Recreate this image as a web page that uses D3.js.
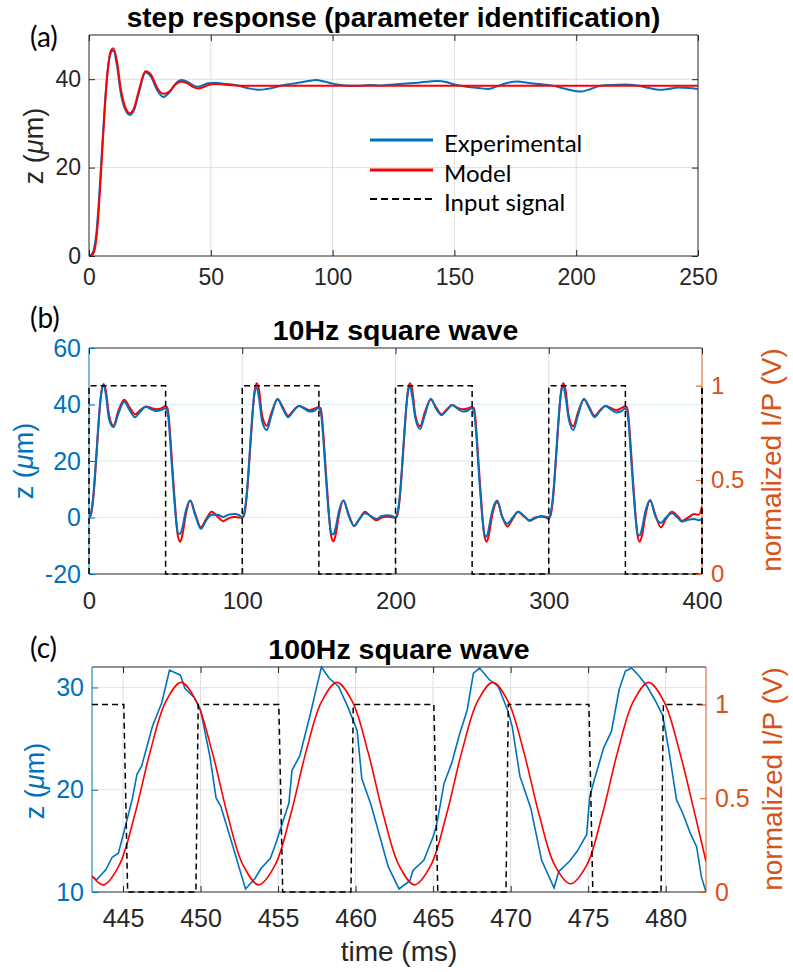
<!DOCTYPE html>
<html><head><meta charset="utf-8">
<script src="https://cdn.jsdelivr.net/npm/d3@7"></script>
<style>body{margin:0;background:#fff}svg{display:block}</style>
</head><body>
<svg id="fig" width="793" height="972"></svg>
<script>
// ---------------- DATA ----------------
// (a) step response
const aTime = [0,1,2,3,4,5,6,7,8,9,
  10,11.5,13,15,16.8,18.5,20.5,23.2,25.5,28,
  30.5,33,35.5,38,40.5,42.8,44.8,47,49,52,
  55,60,65,70,75,80,85,90,93,97,
  100,105,110,115,120,125,130,135,140,143,
  147,150,155,160,164,168,172,176,180,185,
  190,195,200,202,206,210,215,220,225,230,
  234,238,242,246,250];
const aExp = [0,0.3,1.5,5,12,21,30,38,43.5,46,
  46.5,43,37,33,31.9,33,37,41.5,40.5,37.5,
  36,37,39,39.8,39.4,38.6,38.3,38.7,39.1,39.2,
  39.0,38.7,38.0,37.6,38.0,38.7,39.1,39.6,39.8,39.4,
  39.0,38.6,38.5,38.7,38.6,38.8,39.0,39.2,39.5,39.6,
  39.3,38.8,38.3,38.0,37.8,38.5,39.2,39.5,39.2,38.9,
  38.6,37.9,37.3,37.2,37.8,38.5,38.7,38.8,38.6,38.0,
  37.6,37.8,38.1,38.0,37.8];
const aModel = [0,0.1,0.8,3.8,10.5,19.5,29,37.5,43.5,46.5,
  47,44,38,33.5,32.3,33.5,37.5,41.8,41,38,
  36.7,37.2,38.8,39.5,39.0,38.2,37.9,38.2,38.7,38.9,
  38.8,38.6,38.5,38.5,38.5,38.5,38.5,38.5,38.5,38.5,
  38.5,38.5,38.5,38.5,38.5,38.5,38.5,38.5,38.5,38.5,
  38.5,38.5,38.5,38.5,38.5,38.5,38.5,38.5,38.5,38.5,
  38.5,38.5,38.5,38.5,38.5,38.5,38.5,38.5,38.5,38.5,
  38.5,38.5,38.5,38.5,38.5];
const aTicksX = [0,50,100,150,200,250];
const aTicksY = [0,20,40];
const legendLabels = ["Experimental","Model","Input signal"];

// (b) 10 Hz square wave: [time ms, experimental z, model z]
const bCycle1 = [[0,0,0],[1,1,0.5],[2,4,3],[3,9,8],[4,16,15],[5,24,23],[6,32,31],[7,39,38.5],[8,44,44],[9.5,47,47.3],
  [11,43.5,45],[13,35,36.5],[16,32,32.5],[19,36.5,37.5],[23,41,41.7],[26.5,38,39],[30,35.5,36.5],[33.5,37.5,38],[37,39.2,39.3],[40.5,38.3,38.8],
  [44,37.7,38.3],[47,38,38.6],[49.5,38.6,39.3],[51,38,39],[52,34,36],[53,27,29],[54,19,21],[55,11,13],[56,4,5.5],[57,-2,-1.5],
  [58,-5.5,-6.5],[59.5,-5.8,-8.6],[61,-3.5,-6],[63,2,0.5],[66,6,6],[69.5,0.5,1],[73,-4,-3.5],[76.5,-1,-0.5],[80,1,2],[84,1,0.3],
  [87.5,0.2,-1.3],[91,1,-0.3],[95,1.2,0.2],[98,0.8,0]];
const bCycle2 = [[100,0,0],[101,1,0.5],[102,4,3],[103,9,8],[104,16,15],[105,24,23],[106,32,31],[107,39,38.5],[108,44,44.5],[109.5,46,47.5],
  [111,42,45],[113,34,36],[116,31,32.5],[119,36,37],[123,42,41.8],[126.5,38.5,39],[130,35.5,36],[133.5,37.8,38],[137,39.5,39.5],[140.5,38.5,38.8],
  [144,37.5,38],[147,37.8,38.5],[149.5,38.7,39],[151,38,38.8],[152,34,36],[153,27,29],[154,19,21],[155,11,13],[156,4,5.5],[157,-2,-1.5],
  [158,-5.5,-6.5],[159.5,-6,-8.5],[161,-3.5,-6],[163,2,0.5],[166,6,6],[169.5,0.5,1],[173,-3,-3],[176.5,-0.5,-0.5],[180,1.5,2],[184,0.5,0.3],
  [187.5,-0.5,-1],[191,0.5,0],[195,0.8,0.3],[198,0.5,0]];
const bCycle3 = [[200,0,0],[201,1,0.5],[202,4,3],[203,9,8],[204,16,15],[205,24,23],[206,32,31],[207,39,38.5],[208,44,44.5],[209.5,46.5,47.5],
  [211,42.5,45],[213,35,36],[216,31.3,32.3],[219,36,37],[223,42,41.8],[226.5,38.5,39],[230,36.2,36.5],[233.5,38,38.3],[237,39.8,39.8],[240.5,38.5,38.8],
  [244,37.5,38.3],[247,37.8,38.6],[249.5,38.6,39.1],[251,38,38.8],[252,34,36],[253,27,29],[254,19,21],[255,11,13],[256,4,5.5],[257,-2,-1.5],
  [258,-6,-6.5],[259.5,-6.8,-8.6],[261,-3.5,-6],[263,2,0.5],[266.4,6,5.5],[269.5,0.5,0.5],[273,-2.2,-3.2],[276.5,0,-0.5],[280,2,2],[284,0.5,0.3],
  [287.5,-1,-1.2],[291,0,-0.3],[295,0.3,0.5],[298,0,0.3]];
const bCycle4 = [[300,-0.5,0],[301,1,0.5],[302,4,3],[303,9,8],[304,16,15],[305,24,23],[306,32,31],[307,39,38.5],[308,44,44.5],[309.5,46.5,47.5],
  [311,42.5,45],[313,35,36],[316,31,32.3],[319,36,37],[323,42,41.8],[326.5,38.5,39],[330,35.5,36],[333.5,37.8,38],[337,39.5,39.5],[340.5,38.3,38.8],
  [344,37.2,38],[347,37.5,38.6],[349.5,38.5,39.3],[351,38,39],[352,34,36],[353,27,29],[354,19,21],[355,11,13],[356,4,5.5],[357,-2,-1.5],
  [358,-6,-6.5],[359.3,-6.4,-8.6],[361,-3.5,-6],[363,2,0.5],[366.2,6.2,6],[369.5,0.5,1],[373.2,-1.9,-3.5],[376.5,0,-0.5],[380.4,1.5,2],[384,0,0.5],
  [387,-1.5,-1.2],[391,-0.8,0],[395,-0.5,1.2],[398,-1,1],[400,-0.5,4]];
const bInput = [[0,0],[0,1],[50,1],[50,0],[100,0],[100,1],[150,1],[150,0],[200,0],[200,1],[250,1],[250,0],[300,0],[300,1],[350,1],[350,0],[400,0],[400,1]];
const bTicksX = [0,100,200,300,400];
const bTicksYL = [-20,0,20,40,60];
const bTicksYR = [0,0.5,1];

// (c) 100 Hz square wave
const cExp = [[443.0,11.5],[443.3,11.2],[443.9,12.2],[444.3,13.4],[444.7,13.8],[445.1,16.1],[445.6,19.1],[445.9,21.5],[446.2,22.3],[446.9,26.2],
  [447.5,28.5],[448.0,31.7],[448.7,31.2],[449.0,29.9],[449.6,29.0],[450.0,27.8],[450.6,23.3],[451.0,19.2],[451.3,18.4],[451.9,15.4],
  [452.9,10.3],[453.5,11.3],[453.9,12.3],[454.5,13.3],[454.8,14.5],[455.1,15.9],[455.7,18.7],[455.9,21.9],[456.4,23.3],[457.1,27.5],
  [457.5,30.1],[457.8,32.0],[458.3,30.9],[458.9,30.1],[459.5,28.1],[460.1,25.8],[460.4,21.1],[461.0,18.5],[462.1,12.5],[462.8,10.3],
  [463.5,11.1],[463.7,12.1],[464.4,13.1],[465.0,15.4],[465.2,16.4],[465.4,18.0],[465.7,20.6],[466.2,22.6],[466.7,25.4],[467.2,27.8],
  [467.6,31.4],[468.0,31.9],[468.6,30.8],[469.2,30.1],[469.8,27.8],[470.1,26.2],[470.6,21.3],[471.3,18.2],[471.6,16.0],[472.0,13.1],
  [472.8,10.4],[473.1,12.0],[473.8,13.0],[474.3,14.0],[474.9,15.6],[475.1,19.3],[475.4,21.0],[476.0,24.1],[476.5,25.7],[477.0,29.8],
  [477.4,31.6],[477.8,31.9],[478.3,31.1],[478.8,30.1],[479.3,28.8],[479.8,27.3],[480.2,23.9],[480.7,19.0],[481.1,17.7],[481.6,15.7],
  [482.0,14.4],[482.3,11.5],[482.6,10.0]];
const cModel = [[443.0,11.6],[443.75,10.7],[444.75,12.6],[445.75,17.5],[446.75,23.7],[447.75,28.6],[448.75,30.5],[449.75,28.6],[450.75,23.7],[451.75,17.5],
  [452.75,12.6],[453.75,10.7],[454.8,12.6],[455.8,17.5],[456.8,23.7],[457.8,28.6],[458.8,30.5],[459.8,28.6],[460.8,23.7],[461.8,17.5],
  [462.8,12.6],[463.8,10.7],[464.85,12.6],[465.85,17.5],[466.85,23.7],[467.85,28.6],[468.85,30.5],[469.85,28.6],[470.85,23.7],[471.85,17.5],
  [472.85,12.6],[473.85,10.8],[474.9,12.6],[475.9,17.5],[476.9,23.7],[477.9,28.6],[478.9,30.5],[479.9,28.6],[480.9,23.7],[481.9,17.5],
  [482.6,13.0]];
const cInput = [[443,1],[445.05,1],[445.3,0],[449.7,0],[449.85,1],[455.05,1],[455.3,0],[459.7,0],[459.85,1],[465.05,1],[465.3,0],
  [469.7,0],[469.85,1],[475.05,1],[475.3,0],[479.7,0],[479.85,1],[482.6,1]];
const cTicksX = [445,450,455,460,465,470,475,480];
const cTicksYL = [10,20,30];
const cTicksYR = [0,0.5,1];

// ---------------- DRAW ----------------
const FONT = '"Liberation Sans", Arial, Helvetica, sans-serif';
const LFONT = 'Lato, "Open Sans", sans-serif';
const BLUE = '#0072BD', RED = '#FF0000', ORANGE = '#D95319', DARK = '#262626';
const GRIDG = '#DEDEDE', GRIDB = '#D9EAF5';
const svg = d3.select('#fig');
const fmt = d => String(d);

function styleAxis(g, color, fs) {
  g.select('.domain').remove();
  g.attr('font-size', null).attr('font-family', null);
  g.selectAll('.tick line').attr('stroke', color).attr('stroke-width', 1);
  g.selectAll('.tick text').attr('fill', color).attr('font-size', fs).attr('font-family', FONT);
  return g;
}
function box(p, L, R, T, B, cl, cr, ct, cb) {
  p.append('line').attr('x1', L).attr('x2', R).attr('y1', T).attr('y2', T).attr('stroke', ct);
  p.append('line').attr('x1', L).attr('x2', R).attr('y1', B).attr('y2', B).attr('stroke', cb);
  p.append('line').attr('x1', L).attr('x2', L).attr('y1', T).attr('y2', B).attr('stroke', cl);
  p.append('line').attr('x1', R).attr('x2', R).attr('y1', T).attr('y2', B).attr('stroke', cr);
}
function clip(id, L, R, T, B) {
  svg.append('clipPath').attr('id', id).append('rect')
    .attr('x', L).attr('y', T - 2).attr('width', R - L).attr('height', B - T + 4);
}
function zLabel(x, y, color, fs) {
  const t = svg.append('text').attr('transform', `translate(${x},${y}) rotate(-90)`)
    .attr('text-anchor', 'middle').attr('font-family', FONT).attr('font-size', fs).attr('fill', color);
  t.append('tspan').text('z (');
  t.append('tspan').attr('font-style', 'italic').text('\u03BC');
  t.append('tspan').text('m)');
}
function title(x, y, s, fs) {
  svg.append('text').attr('x', x).attr('y', y).attr('text-anchor', 'middle')
    .attr('font-family', FONT).attr('font-weight', 'bold').attr('font-size', fs).attr('fill', '#000').text(s);
}
function panelLabel(x, y, s) {
  svg.append('text').attr('x', x).attr('y', y).attr('font-family', LFONT).attr('font-size', 28).attr('fill', '#000').text(s);
}

// ===== Panel (a) =====
{
  const L = 89, R = 698, T = 35, B = 256;
  const x = d3.scaleLinear().domain([0, 250]).range([L, R]);
  const y = d3.scaleLinear().domain([0, 50]).range([B, T]);
  const g = svg.append('g');
  g.selectAll('.gx').data(aTicksX.slice(1, -1)).join('line')
    .attr('x1', d => x(d)).attr('x2', d => x(d)).attr('y1', T).attr('y2', B).attr('stroke', GRIDG);
  g.selectAll('.gy').data(aTicksY.slice(1)).join('line')
    .attr('x1', L).attr('x2', R).attr('y1', d => y(d)).attr('y2', d => y(d)).attr('stroke', GRIDG);
  clip('clipA', L, R, T, B);
  const line = d3.line().x((d, i) => x(aTime[i])).y(d => y(d)).curve(d3.curveMonotoneX);
  const dg = svg.append('g').attr('clip-path', 'url(#clipA)');
  dg.append('path').datum(aExp).attr('d', line).attr('fill', 'none').attr('stroke', BLUE).attr('stroke-width', 2);
  dg.append('path').datum(aModel).attr('d', line).attr('fill', 'none').attr('stroke', RED).attr('stroke-width', 2);
  box(g, L, R, T, B, DARK, DARK, DARK, DARK);
  styleAxis(svg.append('g').attr('transform', `translate(0,${B})`)
    .call(d3.axisBottom(x).tickValues(aTicksX).tickFormat(fmt).tickSizeInner(-6).tickSizeOuter(0).tickPadding(13)), DARK, 23);
  styleAxis(svg.append('g').attr('transform', `translate(0,${T})`)
    .call(d3.axisTop(x).tickValues(aTicksX).tickFormat(() => '').tickSizeInner(-6).tickSizeOuter(0)), DARK, 23);
  styleAxis(svg.append('g').attr('transform', `translate(${L},0)`)
    .call(d3.axisLeft(y).tickValues(aTicksY).tickFormat(fmt).tickSizeInner(-6).tickSizeOuter(0).tickPadding(8)), DARK, 23);
  styleAxis(svg.append('g').attr('transform', `translate(${R},0)`)
    .call(d3.axisRight(y).tickValues(aTicksY).tickFormat(() => '').tickSizeInner(-6).tickSizeOuter(0)), DARK, 23);
  zLabel(43, 146, DARK, 27);
  title((L + R) / 2, 27, 'step response (parameter identification)', 28);
  panelLabel(30, 47, '(a)');
  // legend
  const lg = svg.append('g');
  const rows = [{c: BLUE, d: null, y: 140}, {c: RED, d: null, y: 170}, {c: '#000', d: '7,4', y: 199}];
  rows.forEach((r, i) => {
    lg.append('line').attr('x1', 370).attr('x2', 433).attr('y1', r.y).attr('y2', r.y)
      .attr('stroke', r.c).attr('stroke-width', i === 2 ? 2 : 3).attr('stroke-dasharray', r.d);
    lg.append('text').attr('x', 444).attr('y', r.y + 12).attr('font-family', LFONT).attr('font-size', 24)
      .attr('fill', '#000').text(legendLabels[i]);
  });
}

// ===== Panel (b) =====
{
  const L = 89, R = 702, T = 348, B = 574;
  const x = d3.scaleLinear().domain([0, 400]).range([L, R]);
  const yL = d3.scaleLinear().domain([-20, 60]).range([B, T]);
  const yR = d3.scaleLinear().domain([0, 1.2]).range([B, T]);
  const g = svg.append('g');
  g.selectAll('.gx').data(bTicksX.slice(1, -1)).join('line')
    .attr('x1', d => x(d)).attr('x2', d => x(d)).attr('y1', T).attr('y2', B).attr('stroke', GRIDG);
  g.selectAll('.gy').data(bTicksYL.slice(1, -1)).join('line')
    .attr('x1', L).attr('x2', R).attr('y1', d => yL(d)).attr('y2', d => yL(d)).attr('stroke', GRIDB);
  clip('clipB', L, R, T, B);
  const dg = svg.append('g').attr('clip-path', 'url(#clipB)');
  const bAll = bCycle1.concat(bCycle2, bCycle3, bCycle4);
  const lm = d3.line().x(d => x(d[0])).y(d => yL(d[2])).curve(d3.curveMonotoneX);
  const le = d3.line().x(d => x(d[0])).y(d => yL(d[1])).curve(d3.curveMonotoneX);
  dg.append('path').datum(bAll).attr('d', lm).attr('fill', 'none').attr('stroke', RED).attr('stroke-width', 2);
  dg.append('path').datum(bAll).attr('d', le).attr('fill', 'none').attr('stroke', BLUE).attr('stroke-width', 2);
  const li = d3.line().x(d => x(d[0])).y(d => yR(d[1]));
  svg.append('path').datum(bInput).attr('d', li).attr('fill', 'none').attr('stroke', '#000')
    .attr('stroke-width', 1.5).attr('stroke-dasharray', '6,4');
  box(g, L, R, T, B, BLUE, ORANGE, DARK, DARK);
  styleAxis(svg.append('g').attr('transform', `translate(0,${B})`)
    .call(d3.axisBottom(x).tickValues(bTicksX).tickFormat(fmt).tickSizeInner(-6).tickSizeOuter(0).tickPadding(17.5)), DARK, 24);
  styleAxis(svg.append('g').attr('transform', `translate(0,${T})`)
    .call(d3.axisTop(x).tickValues(bTicksX).tickFormat(() => '').tickSizeInner(-6).tickSizeOuter(0)), DARK, 24);
  styleAxis(svg.append('g').attr('transform', `translate(${L},0)`)
    .call(d3.axisLeft(yL).tickValues(bTicksYL).tickFormat(fmt).tickSizeInner(-6).tickSizeOuter(0).tickPadding(8)), BLUE, 25);
  styleAxis(svg.append('g').attr('transform', `translate(${R},0)`)
    .call(d3.axisRight(yR).tickValues(bTicksYR).tickFormat(fmt).tickSizeInner(-6).tickSizeOuter(0).tickPadding(9)), ORANGE, 24);
  // dashed input visible along the right edge at t = 400
  svg.append('path').datum(bInput.slice(-2)).attr('d', li).attr('fill', 'none').attr('stroke', '#000')
    .attr('stroke-width', 1.5).attr('stroke-dasharray', '6,4');
  zLabel(33, 461, BLUE, 27);
  svg.append('text').attr('transform', `translate(781,460) rotate(-90)`).attr('text-anchor', 'middle')
    .attr('font-family', FONT).attr('font-size', 28).attr('fill', ORANGE).text('normalized I/P (V)');
  title((L + R) / 2, 340, '10Hz square wave', 28.5);
  panelLabel(30, 328, '(b)');
}

// ===== Panel (c) =====
{
  const L = 92, R = 706, T = 667, B = 892;
  const x = d3.scaleLinear().domain([443, 482.6]).range([L, R]);
  const yL = d3.scaleLinear().domain([10, 32]).range([B, T]);
  const yR = d3.scaleLinear().domain([0, 1.2]).range([B, T]);
  const g = svg.append('g');
  g.selectAll('.gx').data(cTicksX).join('line')
    .attr('x1', d => x(d)).attr('x2', d => x(d)).attr('y1', T).attr('y2', B).attr('stroke', GRIDG);
  g.selectAll('.gy').data(cTicksYL.slice(1)).join('line')
    .attr('x1', L).attr('x2', R).attr('y1', d => yL(d)).attr('y2', d => yL(d)).attr('stroke', GRIDB);
  clip('clipC', L, R, T, B);
  const dg = svg.append('g').attr('clip-path', 'url(#clipC)');
  const le = d3.line().x(d => x(d[0])).y(d => yL(d[1]));
  const lm = d3.line().x(d => x(d[0])).y(d => yL(d[1])).curve(d3.curveCatmullRom);
  dg.append('path').datum(cExp).attr('d', le).attr('fill', 'none').attr('stroke', BLUE).attr('stroke-width', 1.6);
  dg.append('path').datum(cModel).attr('d', lm).attr('fill', 'none').attr('stroke', RED).attr('stroke-width', 1.6);
  box(g, L, R, T, B, BLUE, ORANGE, DARK, DARK);
  const li = d3.line().x(d => x(d[0])).y(d => yR(d[1]));
  svg.append('path').datum(cInput).attr('d', li).attr('fill', 'none').attr('stroke', '#000')
    .attr('stroke-width', 1.5).attr('stroke-dasharray', '6,4');
  styleAxis(svg.append('g').attr('transform', `translate(0,${B})`)
    .call(d3.axisBottom(x).tickValues(cTicksX).tickFormat(fmt).tickSizeInner(-6).tickSizeOuter(0).tickPadding(17)), DARK, 25);
  styleAxis(svg.append('g').attr('transform', `translate(0,${T})`)
    .call(d3.axisTop(x).tickValues(cTicksX).tickFormat(() => '').tickSizeInner(-6).tickSizeOuter(0)), DARK, 25);
  styleAxis(svg.append('g').attr('transform', `translate(${L},0)`)
    .call(d3.axisLeft(yL).tickValues(cTicksYL).tickFormat(fmt).tickSizeInner(-6).tickSizeOuter(0).tickPadding(8)), BLUE, 25);
  styleAxis(svg.append('g').attr('transform', `translate(${R},0)`)
    .call(d3.axisRight(yR).tickValues(cTicksYR).tickFormat(fmt).tickSizeInner(-6).tickSizeOuter(0).tickPadding(9)), ORANGE, 25);
  zLabel(44, 781, BLUE, 27);
  svg.append('text').attr('transform', `translate(782,779) rotate(-90)`).attr('text-anchor', 'middle')
    .attr('font-family', FONT).attr('font-size', 28).attr('fill', ORANGE).text('normalized I/P (V)');
  svg.append('text').attr('x', (L + R) / 2).attr('y', 961).attr('text-anchor', 'middle')
    .attr('font-family', FONT).attr('font-size', 28).attr('fill', DARK).text('time (ms)');
  title((L + R) / 2, 659, '100Hz square wave', 28.5);
  panelLabel(30, 658, '(c)');
}
</script>
</body></html>
